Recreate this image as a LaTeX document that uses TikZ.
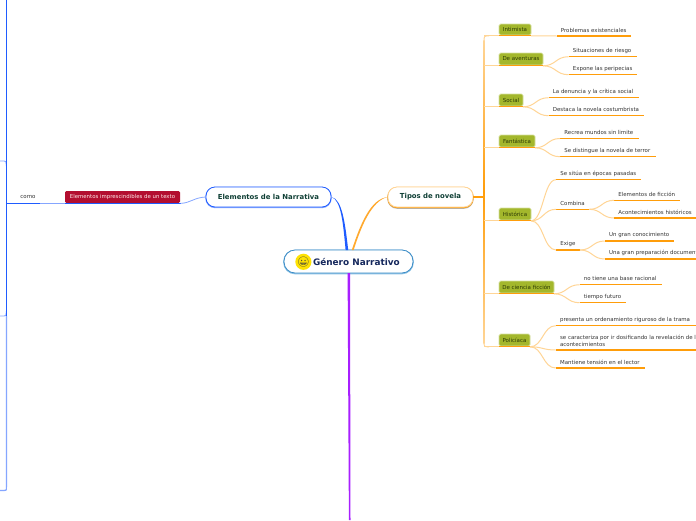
\documentclass[tikz,border=0pt]{standalone}
\usepackage{fontspec}
\setmainfont{DejaVu Sans}
\newfontfamily\emojifont{Noto Emoji}
\definecolor{orangeline}{HTML}{FF9D0A}
\definecolor{orangelight}{HTML}{FFD596}
\definecolor{orangemid}{HTML}{FFA92E}
\definecolor{blueline}{HTML}{1F5CFF}
\definecolor{bluelight}{HTML}{85A6FF}
\definecolor{purpleline}{HTML}{A81FFF}
\definecolor{catgreen}{HTML}{A3B72C}
\definecolor{catrim}{HTML}{D6E09E}
\definecolor{cattext}{HTML}{2C3A05}
\definecolor{leaftext}{HTML}{333333}
\definecolor{redbox}{HTML}{B30E30}
\definecolor{rootblue}{HTML}{3B8BC6}
\definecolor{rootlight}{HTML}{8CC3E6}
\definecolor{rootink}{HTML}{14275C}
\definecolor{mainink}{HTML}{0F3F35}
\tikzset{
  x=1pt,y=-1pt,
  leaf/.style={anchor=west,inner sep=0pt,font=\fontsize{5.45}{7.3}\selectfont,text=leaftext},
  leafline/.style={draw=orangeline,line width=1.3pt},
  twig/.style={draw=orangelight,line width=1pt},
  catnode/.style={fill=catgreen,draw=catrim,line width=0.7pt,rounded corners=1.5pt,inner sep=0pt,
     font=\fontsize{5.5}{6}\selectfont,text=cattext},
  mainnode/.style={fill=white,inner sep=0pt,rounded corners=9pt,line width=0.8pt,
     font=\fontsize{6.9}{8}\bfseries\selectfont,text=mainink},
}
% name, x-left of line, x-right of line, y of line, text
\newcommand{\leafitem}[5]{%
  \coordinate (#1-l) at (#2,#4);
  \coordinate (#1-r) at (#3,#4);
  \node[leaf] (#1) at ({#2+4.2},{#4-5.9}) {#5};
  \draw[leafline] (#1-l) -- (#1-r);
}
% name, x1, x2, ytop, ybottom, text
\newcommand{\catitem}[6]{%
  \node[catnode,minimum width={(#3-#2)*1pt},minimum height={(#5-#4)*1pt}] (#1) at ({(#2+#3)/2},{(#4+#5)/2}) {#6};
  \coordinate (#1-l) at (484,#5+0.8);
  \coordinate (#1-a) at (#2,#5+0.8);
  \coordinate (#1-r) at (#3,#5+0.8);
  \draw[twig] (#1-l) -- (#1-a);
  \draw[leafline] (#1-a) -- (#1-r);
}
% from, to
\newcommand{\twigto}[2]{%
  \draw[twig] (#1) .. controls ($(#1)!0.5!(#1 -| #2)$) and ($(#2)!0.5!(#1 |- #2)$) .. (#2);
}
\usetikzlibrary{calc}
\begin{document}
\begin{tikzpicture}
\useasboundingbox (0,0) rectangle (696,520);
\clip (0,0) rectangle (696,520);
\fill[white] (0,0) rectangle (696,520);

% ---- left trunk
\coordinate (lt-top) at (6.4,0);
\coordinate (lt-a) at (0,161);
\coordinate (lt-b) at (6.4,166);
\coordinate (lt-c) at (0,316);
\coordinate (lt-d) at (6.4,311);
\coordinate (lt-e) at (0,490.5);
\coordinate (lt-m) at (6.4,203.3);
\draw[bluelight,line width=0.9pt] (lt-a) -- (4,161) .. controls (6,161) .. (lt-b);
\draw[bluelight,line width=0.9pt] (lt-c) -- (4,316) .. controls (6,316) .. (lt-d);
\draw[bluelight,line width=1.2pt] (6.4,316) -- (6.4,487) .. controls (6.4,490.5) .. (4,490.5) -- (lt-e);
\draw[blueline,line width=1.1pt] (lt-top) -- (6.4,316);

% ---- root
\node[fill=white,draw=rootblue,line width=0.8pt,rounded corners=11pt,minimum width=129pt,minimum height=23pt,inner sep=0pt,
  preaction={draw=rootlight,line width=1.6pt,transform canvas={yshift=-0.5pt}}] (root) at (348.5,261.5) {};
\node[inner sep=0pt,font=\fontsize{8.9}{11}\bfseries\selectfont,text=rootink,anchor=west] (roottext) at (312.8,261.8) {Género Narrativo};
\node[circle,fill=yellow!85!orange,inner sep=0pt,minimum size=11pt,font=\emojifont\fontsize{10}{10}\selectfont,text=black!75] (smile) at (303.4,261.8) {😀};
\coordinate (pb-start) at (348.8,273);
\coordinate (pb-end) at (349.8,520);
\fill[purpleline] (347.6,273) -- (350,273) -- (350.5,520) -- (348.9,520) -- cycle;

% ---- Elementos
\node[mainnode,draw=blueline,minimum width=125pt,minimum height=20pt,
  preaction={draw=bluelight,line width=1.3pt,transform canvas={yshift=-0.5pt}}] (elem) at (268.5,197) {Elementos de la Narrativa};
\fill[blueline] (elem.east) .. controls (341,200) and (343,222) .. (345.6,250) -- (348.2,250) .. controls (345,222) and (342,199) .. (elem.east);

% ---- Tipos
\node[mainnode,draw=orangelight,minimum width=85pt,minimum height=20pt,
  preaction={draw=black!30,line width=1.3pt,transform canvas={yshift=-1.1pt}},
  preaction={draw=orangeline,line width=1.2pt,transform canvas={yshift=-0.5pt}}] (tipos) at (430.5,197) {Tipos de novela};
\fill[orangemid] (tipos.west) .. controls (371,199) and (361,222) .. (351.8,250) -- (353.6,250) .. controls (362,224) and (372,201) .. (tipos.west);

% ---- orange trunk
\coordinate (trunk) at (484,197);
\draw[orangeline,line width=1.3pt] (tipos.east) -- (trunk);
\shade[top color=orangelight,bottom color=orangelight,middle color=orangeline] (483.4,40) rectangle (484.7,343);

% ---- left side chain
\node[fill=redbox,rounded corners=1.2pt,inner sep=0pt,minimum width=115pt,minimum height=11.6pt,text=white!92!red,font=\fontsize{5.4}{6}\selectfont] (imp) at (122.5,197) {Elementos imprescindibles de un texto};
\node[inner sep=0pt,font=\fontsize{5.5}{6}\selectfont,text=leaftext] (como) at (28,197.4) {como};
\coordinate (como-l) at (17,203.3);
\coordinate (como-r) at (40,203.3);
\coordinate (imp-l) at (65,203.3);
\coordinate (imp-r) at (180.5,203.3);
\draw[bluelight,line width=0.8pt] (lt-m) -- (como-l);
\draw[blueline,line width=1.1pt] (lt-m) -- (como-l) -- (como-r);
\draw[bluelight,line width=0.8pt] (como-r) -- (imp-l);
\draw[blueline,line width=1.1pt] (imp-l) -- (imp-r);
\draw[bluelight,line width=0.8pt] (imp-r) .. controls (190,203.3) and (194,197.5) .. (elem.west);

% ---- categories
\catitem{int}{499}{531}{24}{35}{Intimista}
\catitem{ave}{499}{543}{53}{65}{De aventuras}
\catitem{soc}{499}{523}{94}{106}{Social}
\catitem{fan}{499}{535}{135}{147}{Fantástica}
\catitem{his}{499}{531}{208}{220}{Histórica}
\catitem{cie}{499}{554}{281}{293}{De ciencia ficción}
\catitem{pol}{499}{530}{334}{346}{Policíaca}

% rounded ends of the trunk
\draw[twig] (484,42) .. controls (484,36) .. (489,35.8);
\draw[twig] (484,341) .. controls (484,346.8) .. (489,346.8);

% ---- leaves
\leafitem{l1}{556.5}{631}{36}{Problemas existenciales}
\leafitem{l2}{568.5}{636.7}{56.7}{Situaciones de riesgo}
\leafitem{l3}{568.5}{637}{74.7}{Expone las peripecias}
\leafitem{l4}{548.5}{638.7}{97.7}{La denuncia y la crítica social}
\leafitem{l5}{548.5}{643.7}{115.7}{Destaca la novela costumbrista}
\leafitem{l6}{560}{638.7}{138.5}{Recrea mundos sin limite}
\leafitem{l7}{560}{656}{156.7}{Se distingue la novela de terror}
\leafitem{l8}{556}{641}{179.7}{Se sitúa en épocas pasadas}
\leafitem{l9}{556}{589.3}{209.3}{Combina}
\leafitem{l10}{614}{680}{200.3}{Elementos de ficción}
\leafitem{l11}{614}{700}{218}{Acontecimientos históricos}
\leafitem{l12}{556}{580}{250}{Exige}
\leafitem{l13}{604.7}{673.7}{241}{Un gran conocimiento}
\leafitem{l14}{604.7}{700}{259}{Una gran preparación documental}
\leafitem{l15}{579.5}{661.7}{284.7}{no tiene una base racional}
\leafitem{l16}{579.5}{626.3}{302.7}{tiempo futuro}
\leafitem{l17}{555.7}{700}{325.7}{presenta un ordenamiento riguroso de la trama}
\coordinate (l18-l) at (555.7,350);
\coordinate (l18-r) at (700,350);
\node[leaf,align=left] (l18) at (559.9,340.8) {se caracteriza por ir dosificando la revelación de los\\acontecimientos};
\draw[leafline] (l18-l) -- (l18-r);
\leafitem{l19}{555.7}{644.7}{368}{Mantiene tensión en el lector}

% ---- connectors
\draw[twig] (int-r) -- (l1-l);
\twigto{ave-r}{l2-l}
\twigto{ave-r}{l3-l}
\twigto{soc-r}{l4-l}
\twigto{soc-r}{l5-l}
\twigto{fan-r}{l6-l}
\twigto{fan-r}{l7-l}
\twigto{his-r}{l8-l}
\twigto{his-r}{l9-l}
\twigto{his-r}{l12-l}
\twigto{l9-r}{l10-l}
\twigto{l9-r}{l11-l}
\twigto{l12-r}{l13-l}
\twigto{l12-r}{l14-l}
\twigto{cie-r}{l15-l}
\twigto{cie-r}{l16-l}
\twigto{pol-r}{l17-l}
\twigto{pol-r}{l18-l}
\twigto{pol-r}{l19-l}
\end{tikzpicture}
\end{document}
